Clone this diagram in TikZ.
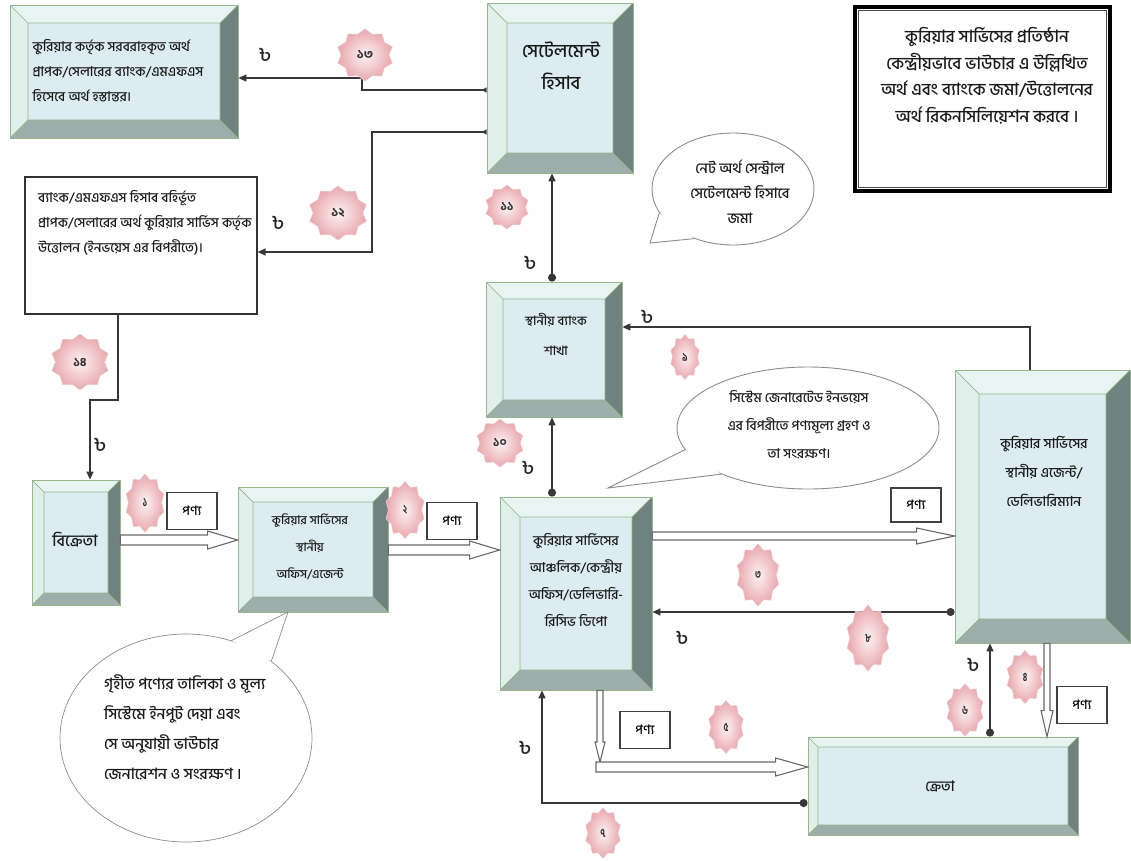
\documentclass[tikz,border=0pt]{standalone}
\usepackage{fontspec}
\setmainfont{Hind Siliguri}[Script=Bengali, UprightFont=* Medium, BoldFont=* Bold]
\usetikzlibrary{shapes.geometric,arrows.meta,calc}

\definecolor{bevface}{RGB}{220,236,241}
\definecolor{bevT}{RGB}{232,244,241}
\definecolor{bevL}{RGB}{224,239,234}
\definecolor{bevR}{RGB}{112,130,126}
\definecolor{bevB}{RGB}{158,174,170}
\definecolor{bevedge}{RGB}{150,182,140}
\definecolor{badgeIn}{RGB}{253,242,242}
\definecolor{badgeOut}{RGB}{232,168,174}
\definecolor{badgeLine}{RGB}{236,196,198}
\definecolor{hollowline}{RGB}{105,105,105}
\definecolor{bubline}{RGB}{140,140,140}
\definecolor{connc}{RGB}{55,55,55}

\newcommand\bevelpic[1]{%
  \path (path picture bounding box.north west) coordinate (Q1)
        (path picture bounding box.north east) coordinate (Q2)
        (path picture bounding box.south east) coordinate (Q3)
        (path picture bounding box.south west) coordinate (Q4);
  \path ([shift={(#1,#1)}]Q1) coordinate (I1)
        ([shift={(-#1,#1)}]Q2) coordinate (I2)
        ([shift={(-#1,-#1)}]Q3) coordinate (I3)
        ([shift={(#1,-#1)}]Q4) coordinate (I4);
  \fill[bevT] (Q1) -- (Q2) -- (I2) -- (I1) -- cycle;
  \fill[bevL] (Q1) -- (I1) -- (I4) -- (Q4) -- cycle;
  \fill[bevR] (Q2) -- (Q3) -- (I3) -- (I2) -- cycle;
  \fill[bevB] (Q4) -- (I4) -- (I3) -- (Q3) -- cycle;
  \draw[bevedge, line width=0.7pt] (I1) rectangle (I3) (Q1) -- (I1) (Q2) -- (I2) (Q3) -- (I3) (Q4) -- (I4);
}
\newcommand\harrow[5]{\draw[hollow] let \p1=(#1), \p2=(#2) in
  (\x1,\y1+#3pt) -- (\x2-#5pt,\y1+#3pt) -- (\x2-#5pt,\y1+#4pt) -- (\x2,\y1) --
  (\x2-#5pt,\y1-#4pt) -- (\x2-#5pt,\y1-#3pt) -- (\x1,\y1-#3pt) -- cycle;}
\newcommand\varrow[5]{\draw[hollow] let \p1=(#1), \p2=(#2) in
  (\x1+#3pt,\y1) -- (\x1+#3pt,\y2+#5pt) -- (\x1+#4pt,\y2+#5pt) -- (\x1,\y2) --
  (\x1-#4pt,\y2+#5pt) -- (\x1-#3pt,\y2+#5pt) -- (\x1-#3pt,\y1) -- cycle;}

\tikzset{
  bevbox/.style={draw=bevedge, line width=0.8pt, fill=bevface, inner sep=0pt, path picture={\bevelpic{#1}}},
  bevbox/.default=18,
  plainbox/.style={draw=black!80, line width=1.2pt, fill=white, inner sep=0pt},
  btxt/.style={align=center, font=\fontsize{13.5}{24}\selectfont, inner sep=0pt, text=black!90},
  ltxt/.style={align=left, font=\fontsize{13.5}{25}\selectfont, inner sep=0pt, text=black!90},
  stxt/.style={align=center, font=\fontsize{14.5}{25}\selectfont, inner sep=0pt, text=black!90},
  conn/.style={draw=connc, line width=1.3pt},
  tipA/.style={-{Triangle[length=8pt,width=7pt]}},
  dotA/.style={{Circle[length=8pt]}-{Triangle[length=8pt,width=7pt]}},
  hollow/.style={draw=hollowline, line width=1.1pt, fill=white, line join=miter},
  bubble/.style={ellipse, draw=bubline, line width=0.9pt, fill=white, inner sep=0pt},
  badge/.style={star, star points=10, star point ratio=1.2, minimum size=#1, inner sep=0pt,
    draw=badgeLine, line width=0.6pt, inner color=badgeIn, outer color=badgeOut,
    font=\fontsize{12}{12}\selectfont\bfseries, text=black!80},
  badge/.default=50,
  taka/.style={font=\fontsize{20}{20}\selectfont, inner sep=0pt, text=black!85},
  pbox/.style={draw=black!75, line width=1.2pt, fill=white, inner sep=0pt, minimum width=50, minimum height=37, font=\fontsize{13}{13}\selectfont},
}

\begin{document}
\begin{tikzpicture}[x=1pt, y=-1pt]
\useasboundingbox (0,0) rectangle (1131,860);
\fill[white] (0,0) rectangle (1131,860);

% ---------- boxes ----------
\node[bevbox=18, minimum width=228, minimum height=133] (pay) at (124,71.5) {};
\node[bevbox=20, minimum width=146, minimum height=170] (settle) at (560,88) {};
\node[bevbox=17, minimum width=136, minimum height=135] (bank) at (554,349.5) {};
\node[bevbox=20, minimum width=152, minimum height=193] (central) at (576,593.5) {};
\node[bevbox=24, minimum width=175, minimum height=273] (agent) at (1042.5,506.5) {};
\node[bevbox=12, minimum width=88, minimum height=125] (seller) at (76,542.5) {};
\node[bevbox=15, minimum width=150, minimum height=125] (local) at (313,549.5) {};
\node[bevbox=10, minimum width=270, minimum height=98] (buyer) at (943,786) {};
\node[plainbox, minimum width=232, minimum height=137] (withdraw) at (141,245.5) {};
\node[draw=black, line width=4.5pt, fill=white, inner sep=0pt, minimum width=255, minimum height=184] (recon) at (982.5,99) {};
\draw[black!70, line width=1.2pt] ([shift={(6,6)}]recon.north west) rectangle ([shift={(-6,-6)}]recon.south east);

% ---------- box texts ----------
\node[ltxt] (payT) at (118,71) {কুরিয়ার কর্তৃক সরবরাহকৃত অর্থ\\প্রাপক/সেলারের ব্যাংক/এমএফএস\\হিসেবে অর্থ হস্তান্তর।};
\node[btxt, font=\fontsize{18.5}{32}\selectfont] (settleT) at (561,66) {সেটেলমেন্ট\\হিসাব};
\node[btxt, font=\fontsize{17}{26.5}\selectfont] (reconT) at (987,76) {কুরিয়ার সার্ভিসের প্রতিষ্ঠান\\কেন্দ্রীয়ভাবে ভাউচার এ উল্লিখিত\\অর্থ এবং ব্যাংকে জমা/উত্তোলনের\\অর্থ রিকনসিলিয়েশন করবে ।};
\node[ltxt, anchor=north west] (withdrawT) at (38,190) {ব্যাংক/এমএফএস হিসাব বহির্ভূত\\প্রাপক/সেলারের অর্থ কুরিয়ার সার্ভিস কর্তৃক\\উত্তোলন (ইনভয়েস এর বিপরীতে)।};
\node[btxt, font=\fontsize{12.8}{30}\selectfont] (bankT) at (556,334) {স্থানীয় ব্যাংক\\শাখা};
\node[btxt, font=\fontsize{13.5}{27}\selectfont] (centralT) at (576,580) {কুরিয়ার সার্ভিসের\\আঞ্চলিক/কেন্দ্রীয়\\অফিস/ডেলিভারি-\\রিসিভ ডিপো};
\node[btxt, font=\fontsize{13.8}{29}\selectfont] (agentT) at (1044,472) {কুরিয়ার সার্ভিসের\\স্থানীয় এজেন্ট/\\ডেলিভারিম্যান};
\node[btxt, font=\fontsize{16}{16}\selectfont] (sellerT) at (75,540) {বিক্রেতা};
\node[btxt, font=\fontsize{12}{27}\selectfont] (localT) at (310,547) {কুরিয়ার সার্ভিসের\\স্থানীয়\\অফিস/এজেন্ট};
\node[btxt, font=\fontsize{14.5}{14.5}\selectfont] (buyerT) at (940,786) {ক্রেতা};

% ---------- speech bubbles ----------
\coordinate (bAtip) at (650,243);
\node[bubble, minimum width=162, minimum height=112] (bA) at (733,189) {};
\fill[white] (bA.198) -- (bAtip) -- (bA.232) -- cycle;
\draw[bubline, line width=0.9pt] (bA.198) -- (bAtip) -- (bA.232);
\node[stxt] (bAT) at (740,192) {নেট অর্থ সেন্ট্রাল\\সেটেলমেন্ট হিসাবে\\জমা};

\coordinate (bBtip) at (608,488);
\node[bubble, minimum width=262, minimum height=122] (bB) at (808,428) {};
\fill[white] (bB.190) -- (bBtip) -- (bB.208) -- cycle;
\draw[bubline, line width=0.9pt] (bB.190) -- (bBtip) -- (bB.208);
\node[stxt, font=\fontsize{13.5}{28}\selectfont] (bBT) at (799,425) {সিস্টেম জেনারেটেড ইনভয়েস\\এর বিপরীতে পণ্যমূল্য গ্রহণ ও\\তা সংরক্ষণ।};

\coordinate (bCtip) at (288,612);
\node[bubble, draw=black!45, line width=0.7pt, minimum width=252, minimum height=208] (bC) at (186,738) {};
\fill[white] (bC.42) -- (bCtip) -- (bC.65) -- cycle;
\draw[black!45, line width=0.7pt] (bC.42) -- (bCtip) -- (bC.65);
\node[ltxt, font=\fontsize{15.5}{30}\selectfont, anchor=west] (bCT) at (104,727) {গৃহীত পণ্যের তালিকা ও মূল্য\\সিস্টেমে ইনপুট দেয়া এবং\\সে অনুযায়ী ভাউচার\\জেনারেশন ও সংরক্ষণ ।};

% ---------- thin connectors ----------
\draw[conn, {Triangle[reversed,length=5pt,width=5pt]}-{Triangle[length=8pt,width=7pt]}]
  (settle.west |- 0,90) -- (362,90) -- (362,78) -- (pay.east |- 0,78);
\draw[conn, {Triangle[reversed,length=5pt,width=5pt]}-{Triangle[length=8pt,width=7pt]}]
  (settle.west |- 0,132) -- (372,132) -- (372,252) -- (withdraw.east |- 0,252);
\draw[conn, tipA] (withdraw.south -| 118,0) -- (118,400) -- (90,400) -- (seller.north -| 90,0);
\draw[conn, tipA] (agent.north -| 1030,0) -- (1030,327) -- (bank.east |- 0,327);
\draw[conn, dotA] (bank.north -| 552,0) -- (settle.south -| 552,0);
\draw[conn, dotA] (central.north -| 552,0) -- (bank.south -| 552,0);
\draw[conn, dotA] (agent.west |- 0,612) -- (central.east |- 0,612);
\draw[conn, dotA] (buyer.north -| 990,0) -- (agent.south -| 990,0);
\draw[conn, dotA] (buyer.west |- 0,803) -- (542,803) -- (central.south -| 542,0);

% ---------- hollow (goods) arrows ----------
\harrow{seller.east |- 0,540}{local.west |- 0,540}{5}{9}{30}
\harrow{local.east |- 0,550}{central.west |- 0,550}{5}{9}{30}
\harrow{central.east |- 0,536}{agent.west |- 0,536}{4}{8}{38}
\varrow{agent.south -| 1047,0}{buyer.north -| 1047,0}{3}{6}{26}
\coordinate (bend5) at (600,762);
\varrow{central.south -| 600,0}{bend5}{3}{5}{20}
\harrow{596,767}{buyer.west |- 0,767}{5}{9}{32}

% ---------- goods labels ----------
\node[pbox] (p1) at (192,511) {পণ্য};
\node[pbox] (p2) at (452,521) {পণ্য};
\node[pbox, minimum height=34] (p3) at (916,505) {পণ্য};
\node[pbox] (p4) at (1082,705) {পণ্য};
\node[pbox] (p5) at (645,730) {পণ্য};

% ---------- taka signs ----------
\node[taka] (t13) at (265,55) {৳};
\node[taka] (t12) at (278,223) {৳};
\node[taka] (t14) at (100,445) {৳};
\node[taka] (t11) at (530,263) {৳};
\node[taka] (t10) at (528,468) {৳};
\node[taka] (t9) at (647,317) {৳};
\node[taka] (t8) at (682,638) {৳};
\node[taka] (t6) at (973,665) {৳};
\node[taka] (t7) at (525,748) {৳};

% ---------- step badges ----------
\node[badge=52, xscale=1.1] (n13) at (365,55) {১৩};
\node[badge=54, xscale=1.1] (n12) at (338,213) {১২};
\node[badge=56, xscale=1.05] (n14) at (80,362) {১৪};
\node[badge=44] (n11) at (507,207) {১১};
\node[badge=48] (n10) at (500,443) {১০};
\node[badge=45, xscale=0.66] (n9) at (685,357) {৯};
\node[badge=58, xscale=0.68] (n1) at (145,503) {১};
\node[badge=57, xscale=0.7] (n2) at (405,510) {২};
\node[badge=62, xscale=0.7] (n3) at (758,575) {৩};
\node[badge=66, xscale=0.66] (n8) at (868,638) {৮};
\node[badge=53, xscale=0.7] (n4) at (1025,677) {৪};
\node[badge=52, xscale=0.72] (n6) at (965,710) {৬};
\node[badge=53, xscale=0.68] (n5) at (726,727) {৫};
\node[badge=50, xscale=0.72] (n7) at (603,833) {৭};
\end{tikzpicture}
\end{document}
